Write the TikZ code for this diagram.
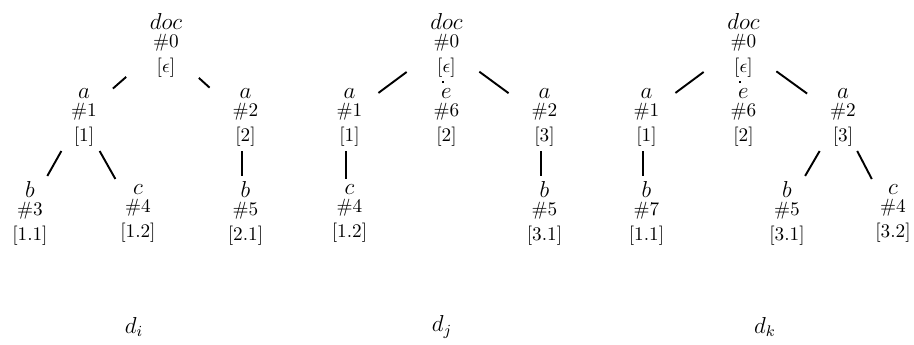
\documentclass[tikz,border=0pt]{standalone}
\begin{document}
\begin{tikzpicture}[x=0.52pt,y=-0.52pt,
  tn/.style={align=center,font=\normalsize,inner xsep=0pt,inner ysep=2.5pt,minimum width=33.3pt},
  rootn/.style={tn,inner ysep=2pt,minimum width=37.4pt},
  ed/.style={line width=1pt},
  captext/.style={font=\large}]
\useasboundingbox (0,0) rectangle (914,345);
\newcommand{\tnode}[3]{\hspace*{3.6pt}{\large$#1$}\\[-2.6pt]\hspace*{3.6pt}\#$#2$\\[0.9pt]\hspace*{3.6pt}$[#3]$}
% tree d_i
\node[rootn] (i0) at (162.5,45) {\tnode{doc}{0}{\epsilon}};
\node[tn] (i1) at (80.5,117) {\tnode{a}{1}{1}};
\node[tn] (i2) at (242,117) {\tnode{a}{2}{2}};
\node[tn] (i3) at (26.5,213) {\tnode{b}{3}{1.1}};
\node[tn] (i4) at (134.5,213) {\tnode{c}{4}{1.2}};
\node[tn] (i5) at (242,213) {\tnode{b}{5}{2.1}};
\draw[ed] (i0) -- (i1);
\draw[ed] (i0) -- (i2);
\draw[ed] (i1) -- (i3);
\draw[ed] (i1) -- (i4);
\draw[ed] (i2) -- (i5);
% tree d_j
\node[rootn] (j0) at (443,45) {\tnode{doc}{0}{\epsilon}};
\node[tn] (j1) at (346,117) {\tnode{a}{1}{1}};
\node[tn] (j6) at (443,117) {\tnode{e}{6}{2}};
\node[tn] (j2) at (541,117) {\tnode{a}{2}{3}};
\node[tn] (j4) at (346,213) {\tnode{c}{4}{1.2}};
\node[tn] (j5) at (541,213) {\tnode{b}{5}{3.1}};
\draw[ed] (j0) -- (j1);
\draw[ed] (j0) -- (j6);
\draw[ed] (j0) -- (j2);
\draw[ed] (j1) -- (j4);
\draw[ed] (j2) -- (j5);
% tree d_k
\node[rootn] (k0) at (740,45) {\tnode{doc}{0}{\epsilon}};
\node[tn] (k1) at (643,117) {\tnode{a}{1}{1}};
\node[tn] (k6) at (740,117) {\tnode{e}{6}{2}};
\node[tn] (k2) at (839.5,117) {\tnode{a}{2}{3}};
\node[tn] (k7) at (643,213) {\tnode{b}{7}{1.1}};
\node[tn] (k5) at (783.5,213) {\tnode{b}{5}{3.1}};
\node[tn] (k4) at (889.5,213) {\tnode{c}{4}{3.2}};
\draw[ed] (k0) -- (k1);
\draw[ed] (k0) -- (k6);
\draw[ed] (k0) -- (k2);
\draw[ed] (k1) -- (k7);
\draw[ed] (k2) -- (k5);
\draw[ed] (k2) -- (k4);
% captions
\node[captext] (ci) at (134,327) {$d_i$};
\node[captext] (cj) at (442,327) {$d_j$};
\node[captext] (ck) at (765,327) {$d_k$};
\end{tikzpicture}
\end{document}
